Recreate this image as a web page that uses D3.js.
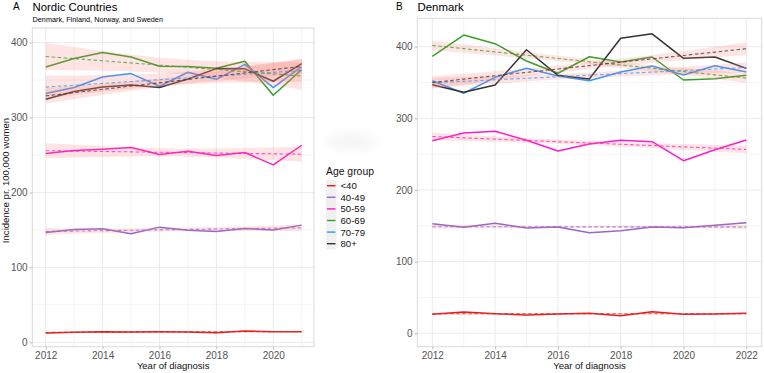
<!DOCTYPE html>
<html><head><meta charset="utf-8">
<script src="https://cdn.jsdelivr.net/npm/d3@7"></script>
<style>
body{margin:0;background:#fff}
svg{display:block}
text{font-family:"Liberation Sans",Arial,Helvetica,sans-serif}
</style>
</head><body>
<svg id="c" width="764" height="373"></svg>
<script>
// ---- data ----
const groups = ["<40", "40-49", "50-59", "60-69", "70-79", "80+"];
const groupColors = ["#E41A1C", "#9966CC", "#FF19CC", "#3A9E2A", "#3399FF", "#333333"];

const yearsA = [2012, 2013, 2014, 2015, 2016, 2017, 2018, 2019, 2020, 2021];
const a_lt40 = [12.4, 13.3, 14.2, 13.8, 14.2, 13.8, 12.9, 15.1, 14.2, 14.2];
const a_4049 = [146.7, 150.7, 151.5, 144.8, 153.7, 149.7, 148.0, 152.0, 150.0, 156.4];
const a_5059 = [252.0, 256.0, 257.7, 260.0, 250.7, 255.0, 249.3, 253.3, 236.8, 263.0];
const a_6069 = [367.5, 378.7, 386.7, 380.8, 368.4, 368.0, 365.7, 375.0, 329.7, 364.0];
const a_7079 = [332.0, 340.0, 354.0, 358.6, 341.7, 360.4, 351.0, 371.0, 340.0, 368.0];
const a_80p  = [324.4, 334.7, 340.8, 343.5, 340.0, 351.5, 365.3, 365.0, 348.4, 372.0];

const yearsB = [2012, 2013, 2014, 2015, 2016, 2017, 2018, 2019, 2020, 2021, 2022];
const b_lt40 = [26.5, 29.7, 27.4, 25.5, 26.9, 27.9, 24.6, 30.2, 26.5, 26.9, 27.9];
const b_4049 = [153.0, 147.9, 153.5, 147.0, 148.4, 140.4, 143.2, 148.4, 147.4, 150.7, 154.4];
const b_5059 = [268.8, 279.5, 281.9, 269.4, 254.4, 264.2, 269.4, 267.4, 240.9, 256.2, 269.8];
const b_6069 = [386.6, 416.3, 404.2, 380.0, 362.9, 386.0, 378.6, 385.6, 353.5, 355.3, 360.0];
const b_7079 = [352.5, 335.0, 357.3, 369.8, 359.0, 352.5, 364.7, 373.0, 360.5, 373.5, 364.7];
const b_80p  = [347.0, 336.4, 346.5, 395.8, 360.0, 355.0, 411.7, 418.0, 383.8, 385.6, 369.8];
// 95% CI half-width of the Denmark trend at the end years
const b_ciEnd = [1.5, 2.5, 5.3, 6.8, 7.0, 8.6];

const yTicks = [0, 100, 200, 300, 400];
const yMinor = [50, 150, 250, 350];
const xTicksA = [2012, 2014, 2016, 2018, 2020];
const xTicksB = [2012, 2014, 2016, 2018, 2020, 2022];

const svg = d3.select("#c");

// linear fit with 95% CI (like geom_smooth(method="lm"))
const tq = {8: 2.306, 9: 2.262, 10: 2.228};
function lmBand(xs, ys, endHalf) {
  const n = xs.length, mx = d3.mean(xs), my = d3.mean(ys);
  const sxx = d3.sum(xs, x => (x - mx) ** 2);
  const b = d3.sum(xs.map((x, i) => (x - mx) * (ys[i] - my))) / sxx;
  const a = my - b * mx;
  const s = Math.sqrt(d3.sum(xs.map((x, i) => (ys[i] - a - b * x) ** 2)) / (n - 2));
  const t = tq[n - 2];
  const lo = d3.min(xs), hi = d3.max(xs);
  const shape = x => Math.sqrt(1 / n + (x - mx) ** 2 / sxx);
  const k = endHalf != null ? endHalf / shape(lo) : t * s;
  return d3.range(0, 41).map(j => {
    const x = lo + (hi - lo) * j / 40;
    const f = a + b * x;
    const h = k * shape(x);
    return {x, f, lo: f - h, hi: f + h};
  });
}

function drawPanel(cfg) {
  const g = svg.append("g");
  const x = d3.scaleLinear().domain([cfg.years[0], cfg.years[cfg.years.length - 1]]).range(cfg.xr);
  const y = d3.scaleLinear().domain([0, 400]).range(cfg.yr);
  const L = cfg.box[0], T = cfg.box[1], R = cfg.box[2], B = cfg.box[3];

  g.selectAll(".gminy").data(yMinor).join("line")
    .attr("x1", L).attr("x2", R).attr("y1", d => y(d)).attr("y2", d => y(d))
    .attr("stroke", "#f4f4f4").attr("stroke-width", 1);
  g.selectAll(".gminx").data(cfg.years.filter(v => !cfg.xTicks.includes(v))).join("line")
    .attr("y1", T).attr("y2", B).attr("x1", d => x(d)).attr("x2", d => x(d))
    .attr("stroke", "#f4f4f4").attr("stroke-width", 1);
  g.selectAll(".gmajy").data(yTicks).join("line")
    .attr("x1", L).attr("x2", R).attr("y1", d => y(d)).attr("y2", d => y(d))
    .attr("stroke", "#ebebeb").attr("stroke-width", 1);
  g.selectAll(".gmajx").data(cfg.xTicks).join("line")
    .attr("y1", T).attr("y2", B).attr("x1", d => x(d)).attr("x2", d => x(d))
    .attr("stroke", "#ebebeb").attr("stroke-width", 1);

  const line = d3.line().x((d, i) => x(cfg.years[i])).y(d => y(d));
  cfg.series.forEach((s, i) => {
    g.append("path").attr("d", line(s)).attr("fill", "none")
      .attr("stroke", groupColors[i]).attr("stroke-width", 1.5).attr("stroke-linejoin", "round");
  });
  const bands = cfg.series.map((s, i) => lmBand(cfg.years, s, cfg.ciEnd ? cfg.ciEnd[i] : null));
  const area = d3.area().x(d => x(d.x)).y0(d => y(d.lo)).y1(d => y(d.hi));
  bands.forEach(bd => {
    g.append("path").attr("d", area(bd)).attr("fill", "#F8766D").attr("fill-opacity", 0.2);
  });
  const fl = d3.line().x(d => x(d.x)).y(d => y(d.f));
  bands.forEach((bd, i) => {
    g.append("path").attr("d", fl(bd)).attr("fill", "none")
      .attr("stroke", groupColors[i]).attr("stroke-opacity", 0.75)
      .attr("stroke-width", 1.1).attr("stroke-dasharray", "3.5,2.5");
  });
  g.append("rect").attr("x", L).attr("y", T).attr("width", R - L).attr("height", B - T)
    .attr("fill", "none").attr("stroke", "#dadada").attr("stroke-width", 1);

  const ax = g.append("g").attr("transform", `translate(0,${B})`)
    .call(d3.axisBottom(x).tickValues(cfg.xTicks).tickFormat(d3.format("d")).tickSize(2.7).tickPadding(2.2));
  const ay = g.append("g").attr("transform", `translate(${L},0)`)
    .call(d3.axisLeft(y).tickValues(yTicks).tickSize(2.7).tickPadding(2));
  [ax, ay].forEach(a => {
    a.select(".domain").remove();
    a.selectAll(".tick line").attr("stroke", "#bdbdbd");
    a.selectAll(".tick text").attr("fill", "#555").style("font-size", "10px")
      .style("font-family", "'Liberation Sans',Arial,sans-serif");
  });

  g.append("text").attr("x", (L + R) / 2).attr("y", 368.5).attr("text-anchor", "middle")
    .style("font-size", "9.5px").attr("fill", "#111").text("Year of diagnosis");
}

drawPanel({
  years: yearsA, series: [a_lt40, a_4049, a_5059, a_6069, a_7079, a_80p], ciEnd: null,
  xr: [45.7, 301.7], yr: [342.3, 42.6], box: [32.3, 28, 314, 346.7], xTicks: xTicksA
});
drawPanel({
  years: yearsB, series: [b_lt40, b_4049, b_5059, b_6069, b_7079, b_80p], ciEnd: b_ciEnd,
  xr: [432.3, 746.3], yr: [333.3, 46.7], box: [417.3, 18.3, 761.7, 346.7], xTicks: xTicksB
});

svg.append("text").attr("x", 13).attr("y", 9.6).style("font-size", "10px").text("A");
svg.append("text").attr("x", 32.5).attr("y", 11.3).style("font-size", "11.4px").text("Nordic Countries");
svg.append("text").attr("x", 32.5).attr("y", 22).style("font-size", "7.3px").text("Denmark, Finland, Norway, and Sweden");
svg.append("text").attr("x", 396).attr("y", 9.6).style("font-size", "10px").text("B");
svg.append("text").attr("x", 417.5).attr("y", 11.3).style("font-size", "11.4px").text("Denmark");

svg.append("text").attr("transform", "translate(9.3,180.5) rotate(-90)").attr("text-anchor", "middle")
  .style("font-size", "9.6px").attr("fill", "#111").text("Incidence pr. 100,000 women");

const defs = svg.append("defs");
defs.append("filter").attr("id", "blur").attr("x", "-50%").attr("y", "-50%").attr("width", "200%").attr("height", "200%")
  .append("feGaussianBlur").attr("stdDeviation", 5);
svg.append("ellipse").attr("cx", 351.5).attr("cy", 141.5).attr("rx", 26).attr("ry", 10)
  .attr("fill", "#f7f7f7").attr("filter", "url(#blur)");

const lg = svg.append("g");
lg.append("text").attr("x", 326).attr("y", 175).style("font-size", "10.4px").attr("fill", "#111").text("Age group");
groups.forEach((gname, i) => {
  const cy = 185.7 + i * 11.6;
  lg.append("rect").attr("x", 326).attr("y", cy - 5.8).attr("width", 10.5).attr("height", 11.6).attr("fill", "#f0f0f0");
  lg.append("line").attr("x1", 327).attr("x2", 335.5).attr("y1", cy).attr("y2", cy)
    .attr("stroke", groupColors[i]).attr("stroke-width", 1.4);
  lg.append("text").attr("x", 340.5).attr("y", cy + 3.4).style("font-size", "9.6px").attr("fill", "#111").text(gname);
});
</script>
</body></html>
